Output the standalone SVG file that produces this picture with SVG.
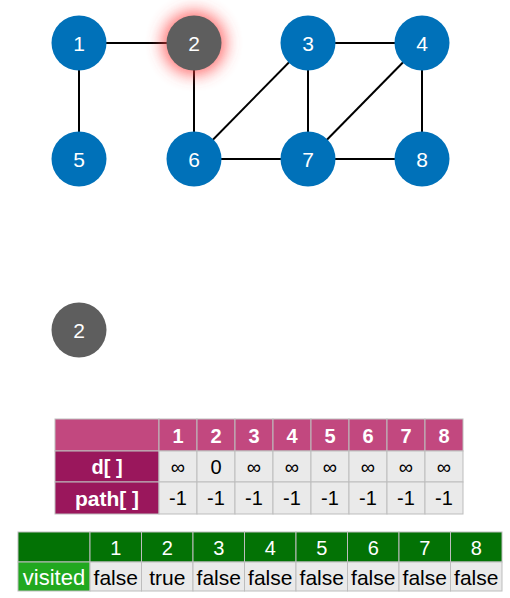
<svg xmlns="http://www.w3.org/2000/svg" width="510" height="598" viewBox="0 0 510 598">
<defs>
<filter id="glow" x="-100%" y="-100%" width="300%" height="300%">
<feGaussianBlur stdDeviation="8"/>
</filter>
</defs>
<style>
.n{fill:#0071B9}
.g{fill:#5E5E5E}
.nt{font-family:"Liberation Sans",Arial,sans-serif;font-size:21px;fill:#fff;text-anchor:middle;dominant-baseline:central}
.e line{stroke:#000;stroke-width:2}
.c{fill:#EAEAEA;stroke:#BDBDBD;stroke-width:1}
.ph{fill:#C2487F;stroke:#BDBDBD;stroke-width:1}
.pl{fill:#9A175C;stroke:#BDBDBD;stroke-width:1}
.gh{fill:#037205;stroke:#BDBDBD;stroke-width:1}
.gl{fill:#21A81F;stroke:#BDBDBD;stroke-width:1}
.hw{font-family:"Liberation Sans",Arial,sans-serif;font-size:20px;font-weight:bold;fill:#fff;text-anchor:middle;dominant-baseline:central}
.tw{font-family:"Liberation Sans",Arial,sans-serif;font-size:20px;fill:#fff;text-anchor:middle;dominant-baseline:central}
.tb{font-family:"Liberation Sans",Arial,sans-serif;font-size:20px;fill:#000;text-anchor:middle;dominant-baseline:central}
.tf{font-family:"Liberation Sans",Arial,sans-serif;font-size:21px;fill:#000;text-anchor:middle;dominant-baseline:central}
</style>
<g class="e" id="edges">
<line x1="79" y1="43" x2="194" y2="43"/>
<line x1="79" y1="43" x2="79" y2="159"/>
<line x1="194" y1="43" x2="194" y2="159"/>
<line x1="194" y1="159" x2="308" y2="43"/>
<line x1="194" y1="159" x2="308" y2="159"/>
<line x1="308" y1="43" x2="422" y2="43"/>
<line x1="308" y1="43" x2="308" y2="159"/>
<line x1="308" y1="159" x2="422" y2="43"/>
<line x1="308" y1="159" x2="422" y2="159"/>
<line x1="422" y1="43" x2="422" y2="159"/>
</g>
<g id="node1"><circle class="n" cx="79" cy="43" r="27.5"/><text class="nt" x="79" y="43">1</text></g>
<g id="node2"><circle cx="194" cy="43" r="32" fill="#FF4040" opacity="0.75" filter="url(#glow)"/><circle class="g" cx="194" cy="43" r="27.5"/><text class="nt" x="194" y="43">2</text></g>
<g id="node3"><circle class="n" cx="308" cy="43" r="27.5"/><text class="nt" x="308" y="43">3</text></g>
<g id="node4"><circle class="n" cx="422" cy="43" r="27.5"/><text class="nt" x="422" y="43">4</text></g>
<g id="node5"><circle class="n" cx="79" cy="159" r="27.5"/><text class="nt" x="79" y="159">5</text></g>
<g id="node6"><circle class="n" cx="194" cy="159" r="27.5"/><text class="nt" x="194" y="159">6</text></g>
<g id="node7"><circle class="n" cx="308" cy="159" r="27.5"/><text class="nt" x="308" y="159">7</text></g>
<g id="node8"><circle class="n" cx="422" cy="159" r="27.5"/><text class="nt" x="422" y="159">8</text></g>
<g id="queue"><circle class="g" cx="79" cy="330" r="27.5"/><text class="nt" x="79" y="330">2</text></g>
<g id="table-d">
<rect class="ph" x="55" y="419" width="104" height="32"/>
<rect class="pl" x="55" y="451" width="104" height="31"/>
<rect class="pl" x="55" y="482" width="104" height="32"/>
<text class="hw" x="107" y="467">d[ ]</text>
<text class="hw" x="107" y="498" style="font-size:21px">path[ ]</text>
<g>
<rect class="ph" x="159" y="419" width="38" height="32"/><rect class="c" x="159" y="451" width="38" height="31"/><rect class="c" x="159" y="482" width="38" height="32"/>
<rect class="ph" x="197" y="419" width="38" height="32"/><rect class="c" x="197" y="451" width="38" height="31"/><rect class="c" x="197" y="482" width="38" height="32"/>
<rect class="ph" x="235" y="419" width="38" height="32"/><rect class="c" x="235" y="451" width="38" height="31"/><rect class="c" x="235" y="482" width="38" height="32"/>
<rect class="ph" x="273" y="419" width="38" height="32"/><rect class="c" x="273" y="451" width="38" height="31"/><rect class="c" x="273" y="482" width="38" height="32"/>
<rect class="ph" x="311" y="419" width="38" height="32"/><rect class="c" x="311" y="451" width="38" height="31"/><rect class="c" x="311" y="482" width="38" height="32"/>
<rect class="ph" x="349" y="419" width="38" height="32"/><rect class="c" x="349" y="451" width="38" height="31"/><rect class="c" x="349" y="482" width="38" height="32"/>
<rect class="ph" x="387" y="419" width="38" height="32"/><rect class="c" x="387" y="451" width="38" height="31"/><rect class="c" x="387" y="482" width="38" height="32"/>
<rect class="ph" x="425" y="419" width="38" height="32"/><rect class="c" x="425" y="451" width="38" height="31"/><rect class="c" x="425" y="482" width="38" height="32"/>
</g>
<text class="hw" x="178" y="436">1</text><text class="hw" x="216" y="436">2</text><text class="hw" x="254" y="436">3</text><text class="hw" x="292" y="436">4</text><text class="hw" x="330" y="436">5</text><text class="hw" x="368" y="436">6</text><text class="hw" x="406" y="436">7</text><text class="hw" x="444" y="436">8</text>
<text class="tb" x="178" y="467">∞</text><text class="tb" x="216" y="467">0</text><text class="tb" x="254" y="467">∞</text><text class="tb" x="292" y="467">∞</text><text class="tb" x="330" y="467">∞</text><text class="tb" x="368" y="467">∞</text><text class="tb" x="406" y="467">∞</text><text class="tb" x="444" y="467">∞</text>
<text class="tb" x="178" y="498">-1</text><text class="tb" x="216" y="498">-1</text><text class="tb" x="254" y="498">-1</text><text class="tb" x="292" y="498">-1</text><text class="tb" x="330" y="498">-1</text><text class="tb" x="368" y="498">-1</text><text class="tb" x="406" y="498">-1</text><text class="tb" x="444" y="498">-1</text>
</g>
<g id="table-visited">
<rect class="gh" x="18" y="532" width="72" height="30"/>
<rect class="gl" x="18" y="562" width="72" height="29"/>
<text class="tw" x="54" y="577" style="font-size:22px">visited</text>
<g>
<rect class="gh" x="90" y="532" width="51.5" height="30"/><rect class="c" x="90" y="562" width="51.5" height="29"/>
<rect class="gh" x="141.5" y="532" width="51.5" height="30"/><rect class="c" x="141.5" y="562" width="51.5" height="29"/>
<rect class="gh" x="193" y="532" width="51.5" height="30"/><rect class="c" x="193" y="562" width="51.5" height="29"/>
<rect class="gh" x="244.5" y="532" width="51.5" height="30"/><rect class="c" x="244.5" y="562" width="51.5" height="29"/>
<rect class="gh" x="296" y="532" width="51.5" height="30"/><rect class="c" x="296" y="562" width="51.5" height="29"/>
<rect class="gh" x="347.5" y="532" width="51.5" height="30"/><rect class="c" x="347.5" y="562" width="51.5" height="29"/>
<rect class="gh" x="399" y="532" width="51.5" height="30"/><rect class="c" x="399" y="562" width="51.5" height="29"/>
<rect class="gh" x="450.5" y="532" width="51.5" height="30"/><rect class="c" x="450.5" y="562" width="51.5" height="29"/>
</g>
<text class="tw" x="115.75" y="548">1</text><text class="tw" x="167.25" y="548">2</text><text class="tw" x="218.75" y="548">3</text><text class="tw" x="270.25" y="548">4</text><text class="tw" x="321.75" y="548">5</text><text class="tw" x="373.25" y="548">6</text><text class="tw" x="424.75" y="548">7</text><text class="tw" x="476.25" y="548">8</text>
<text class="tf" x="115.75" y="577">false</text><text class="tf" x="167.25" y="577">true</text><text class="tf" x="218.75" y="577">false</text><text class="tf" x="270.25" y="577">false</text><text class="tf" x="321.75" y="577">false</text><text class="tf" x="373.25" y="577">false</text><text class="tf" x="424.75" y="577">false</text><text class="tf" x="476.25" y="577">false</text>
</g>
</svg>
